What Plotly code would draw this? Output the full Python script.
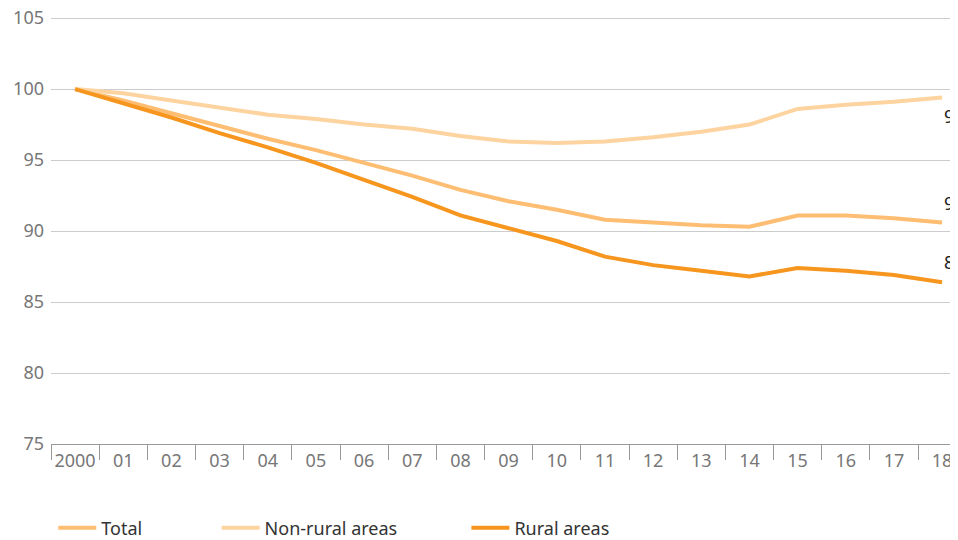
import plotly.graph_objects as go

years = ["2000", "01", "02", "03", "04", "05", "06", "07", "08", "09",
         "10", "11", "12", "13", "14", "15", "16", "17", "18"]
total = [100, 99.2, 98.3, 97.4, 96.5, 95.7, 94.8, 93.9, 92.9, 92.1,
         91.5, 90.8, 90.6, 90.4, 90.3, 91.1, 91.1, 90.9, 90.6]
non_rural = [100, 99.7, 99.2, 98.7, 98.2, 97.9, 97.5, 97.2, 96.7, 96.3,
             96.2, 96.3, 96.6, 97.0, 97.5, 98.6, 98.9, 99.1, 99.4]
rural = [100, 99.0, 98.0, 96.9, 95.9, 94.8, 93.6, 92.4, 91.1, 90.2,
         89.3, 88.2, 87.6, 87.2, 86.8, 87.4, 87.2, 86.9, 86.4]
end_labels = ["99", "91", "86"]

FONT = "Noto Sans"
c_total = "#fdbe73"
c_non = "#fdd3a0"
c_rural = "#f7961e"

fig = go.Figure()
series = [("Total", total, c_total, "legend"),
          ("Non-rural areas", non_rural, c_non, "legend2"),
          ("Rural areas", rural, c_rural, "legend3")]
for name, vals, col, lg in series:
    fig.add_trace(go.Scatter(x=years, y=vals, name=name, mode="lines",
                             line=dict(color=col, width=4),
                             legend=lg, showlegend=True, cliponaxis=False))

for vals, lab, dy in zip([non_rural, total, rural], end_labels, [-18, 20, 20]):
    fig.add_annotation(x=years[-1], y=vals[-1], text=lab, showarrow=False,
                       xanchor="left", yanchor="middle", xshift=0, yshift=dy,
                       font=dict(family=FONT, size=18, color="#222"))

legend_common = dict(orientation="h", yanchor="middle", xanchor="left",
                     font=dict(family=FONT, size=18, color="#333"),
                     bgcolor="rgba(0,0,0,0)", itemwidth=38)
fig.update_layout(
    width=950, height=532, showlegend=True,
    margin=dict(l=43, r=0, t=3, b=96, autoexpand=False),
    plot_bgcolor="white", paper_bgcolor="white",
    font=dict(family=FONT, size=18, color="#777"),
    legend=dict(x=0.0025, y=-0.194, **legend_common),
    legend2=dict(x=0.1826, y=-0.194, **legend_common),
    legend3=dict(x=0.458, y=-0.194, **legend_common),
    xaxis=dict(type="category", tickson="boundaries", ticks="outside",
               ticklen=15, tickcolor="#999", tickwidth=1,
               showline=True, linecolor="#999", linewidth=1,
               showgrid=False, range=[-0.5, 18.33], automargin=False,
               tickangle=0, ticklabeloverflow="allow",
               tickfont=dict(family=FONT, size=18, color="#777")),
    yaxis=dict(range=[75, 105.5], dtick=5, tick0=75, showgrid=True,
               gridcolor="#cccccc", gridwidth=1, zeroline=False,
               showline=False, ticks="", automargin=False,
               ticklabelstandoff=6, ticklabeloverflow="allow",
               tickfont=dict(family=FONT, size=18, color="#777")),
)

fig.write_html("out.html")
